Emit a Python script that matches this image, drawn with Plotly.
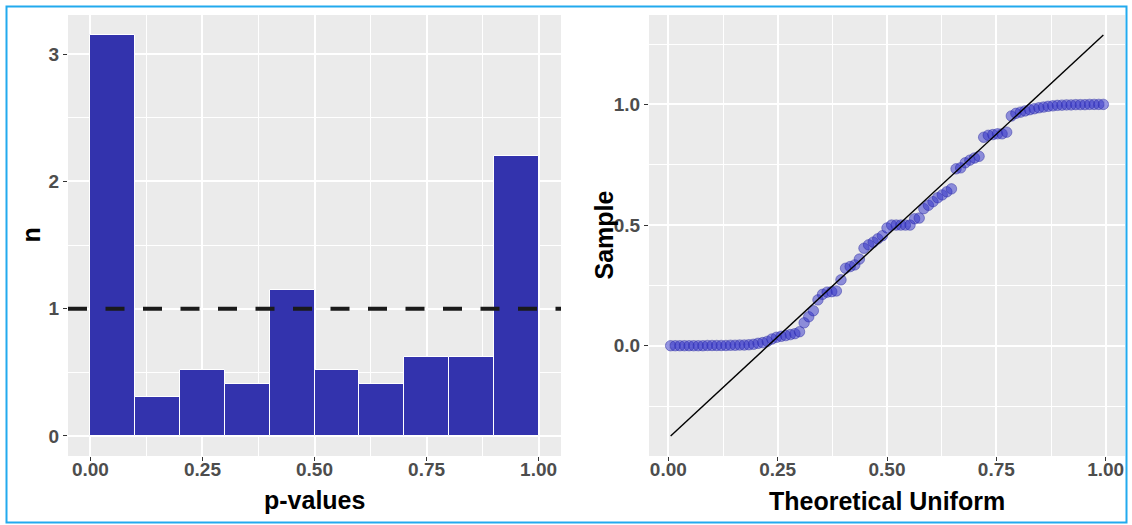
import numpy as np
import plotly.graph_objects as go

# ---- histogram of p-values (density per bin) ----
bin_edges = [0.0, 0.1, 0.2, 0.3, 0.4, 0.5, 0.6, 0.7, 0.8, 0.9, 1.0]
bin_density = [3.15, 0.31, 0.52, 0.41, 1.15, 0.52, 0.41, 0.62, 0.62, 2.20]
reference_level = 1.0

# ---- sorted p-values for the uniform QQ plot ----
sample_sorted = [
    0.000, 0.000, 0.000, 0.000, 0.000, 0.000, 0.000, 0.000, 0.001, 0.001,
    0.001, 0.001, 0.001, 0.002, 0.002, 0.003, 0.003, 0.004, 0.006, 0.010,
    0.013, 0.018, 0.028, 0.035, 0.039, 0.042, 0.046, 0.050, 0.058, 0.095,
    0.120, 0.145, 0.190,
    0.213, 0.222, 0.224, 0.227, 0.273,
    0.321, 0.328, 0.335, 0.359,
    0.404, 0.418, 0.429, 0.443, 0.456, 0.488, 0.500, 0.500, 0.500, 0.500, 0.500,
    0.526, 0.529, 0.568, 0.582, 0.597,
    0.613, 0.625, 0.638, 0.650,
    0.733, 0.737, 0.758, 0.769, 0.778, 0.785,
    0.864, 0.872, 0.875, 0.878, 0.878, 0.885,
    0.952, 0.963, 0.968, 0.973, 0.978, 0.982, 0.986, 0.989, 0.992, 0.994,
    0.996, 0.997, 0.998, 0.998, 0.999, 0.999, 0.999, 1.000, 1.000, 1.000, 1.000,
]

x_ticks = [0.0, 0.25, 0.5, 0.75, 1.0]
hist_y_ticks = [0, 1, 2, 3]
qq_y_ticks = [0.0, 0.5, 1.0]

W, H = 1132, 525
FONT = "Liberation Sans, Arial, sans-serif"
PANEL_BG = "#EBEBEB"
BAR_FILL = "#3333AD"
TICK_GREY = "#4D4D4D"


def expand(lo, hi, frac=0.05):
    span = hi - lo
    return [lo - frac * span, hi + frac * span]


def px_x(p):
    return p / W


def px_y(p):
    return 1 - p / H


# histogram geometry
edges = np.array(bin_edges)
centers = (edges[:-1] + edges[1:]) / 2
widths = np.diff(edges)
hist_xr = expand(edges[0], edges[-1])
hist_yr = expand(0, max(bin_density))

# QQ geometry: uniform plotting positions and quartile line
sample = np.array(sample_sorted)
n = len(sample)
theoretical = (np.arange(1, n + 1) - 0.5) / n
q1, q3 = np.quantile(sample, [0.25, 0.75])
slope = (q3 - q1) / (0.75 - 0.25)
intercept = q1 - slope * 0.25
line_x = np.array([theoretical.min(), theoretical.max()])
line_y = intercept + slope * line_x
qq_xr = expand(theoretical.min(), theoretical.max())
qq_yr = expand(min(sample.min(), line_y.min()), max(sample.max(), line_y.max()))

fig = go.Figure()

fig.add_trace(go.Bar(
    x=centers, y=bin_density, width=widths,
    marker=dict(color=BAR_FILL, line=dict(color="white", width=1)),
    xaxis="x", yaxis="y", showlegend=False, hoverinfo="x+y",
))

fig.add_trace(go.Scatter(
    x=theoretical, y=sample, mode="markers",
    marker=dict(size=10.5, color="rgba(45,45,200,0.5)",
                line=dict(color="rgba(40,40,160,0.45)", width=1)),
    xaxis="x2", yaxis="y2", showlegend=False,
))

fig.add_trace(go.Scatter(
    x=line_x, y=line_y, mode="lines",
    line=dict(color="black", width=1.4),
    xaxis="x2", yaxis="y2", showlegend=False, hoverinfo="skip",
))

# dashed reference level across the histogram panel
fig.add_shape(
    type="line", xref="x domain", yref="y", x0=0, x1=1,
    y0=reference_level, y1=reference_level,
    line=dict(color="#1A1A1A", width=4, dash="19px,18.5px"),
    layer="above",
)

# thin blue frame around the figure
fig.add_shape(
    type="rect", xref="paper", yref="paper",
    x0=px_x(6.5), x1=px_x(1126.5), y0=px_y(522.5), y1=px_y(6.5),
    line=dict(color="#22AAEE", width=2), fillcolor="rgba(0,0,0,0)",
)

tick_font = dict(family=FONT, size=19, color=TICK_GREY, weight="bold")
common_axis = dict(
    showgrid=True, gridcolor="white", gridwidth=2,
    zeroline=False, showline=False,
    ticks="outside", ticklen=4, tickwidth=1.2, tickcolor="#333333",
    tickfont=tick_font, fixedrange=True,
)

y_domain = [px_y(456), px_y(15)]

fig.update_layout(
    width=W, height=H,
    margin=dict(l=0, r=0, t=0, b=0),
    paper_bgcolor="white",
    plot_bgcolor=PANEL_BG,
    bargap=0,
    xaxis=dict(
        common_axis, domain=[px_x(68), px_x(561)], range=hist_xr,
        tickvals=x_ticks, tickformat=".2f", anchor="y", ticklabelstandoff=-8,
        minor=dict(dtick=0.125, tick0=0, showgrid=True, gridcolor="white", gridwidth=1),
    ),
    yaxis=dict(
        common_axis, domain=y_domain, range=hist_yr,
        tickvals=hist_y_ticks, anchor="x",
        minor=dict(dtick=0.5, tick0=0, showgrid=True, gridcolor="white", gridwidth=1),
    ),
    xaxis2=dict(
        common_axis, domain=[px_x(649), px_x(1125)], range=qq_xr,
        tickvals=x_ticks, tickformat=".2f", anchor="y2", ticklabelstandoff=-8,
        minor=dict(dtick=0.125, tick0=0, showgrid=True, gridcolor="white", gridwidth=1),
    ),
    yaxis2=dict(
        common_axis, domain=y_domain, range=qq_yr,
        tickvals=qq_y_ticks, tickformat=".1f", anchor="x2",
        minor=dict(dtick=0.25, tick0=0, showgrid=True, gridcolor="white", gridwidth=1),
    ),
)

title_font = dict(family=FONT, size=25, color="black", weight="bold")
titles = [
    ("n", 30, 235.5, -90),
    ("Sample", 603, 235.5, -90),
    ("p-values", 314.5, 500, 0),
    ("Theoretical Uniform", 887, 501, 0),
]
for text, xp, yp, ang in titles:
    fig.add_annotation(
        text=text, xref="paper", yref="paper", x=px_x(xp), y=px_y(yp),
        xanchor="center", yanchor="middle", showarrow=False,
        textangle=ang, font=title_font,
    )

fig.write_html("out.html")
